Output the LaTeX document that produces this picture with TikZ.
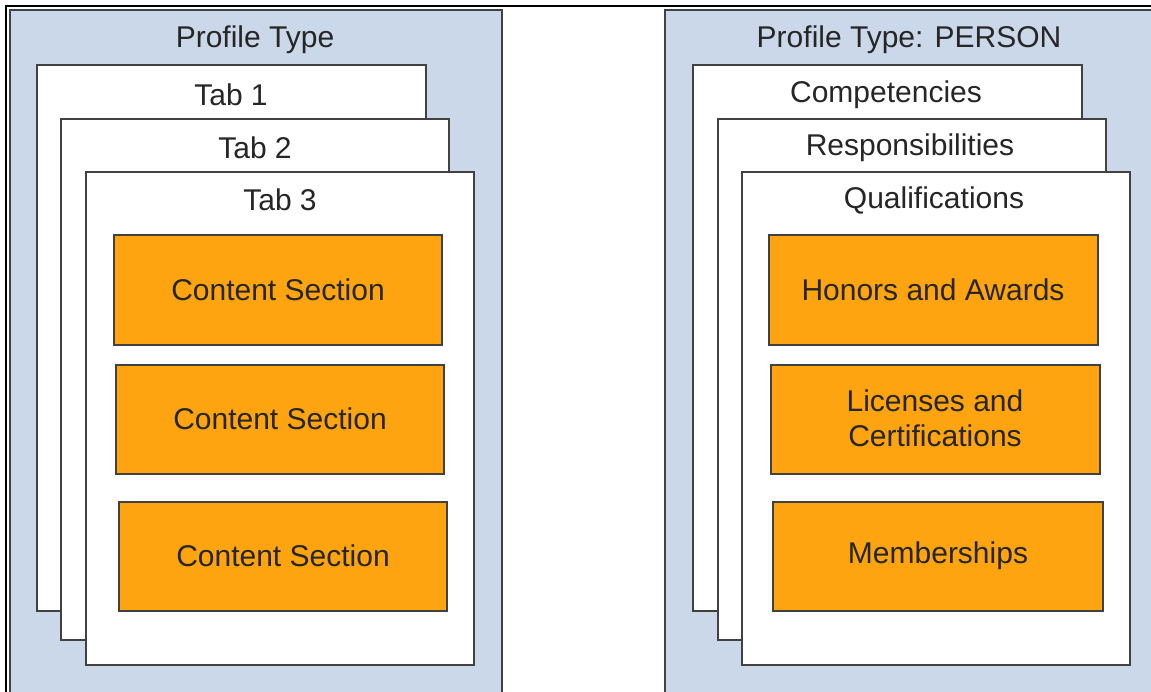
\documentclass[tikz,border=0pt]{standalone}
\usepackage{fontspec}
\setmainfont{Liberation Sans}
\usepackage{tikz}

\definecolor{panelblue}{RGB}{203,216,234}
\definecolor{secorange}{RGB}{253,164,16}
\definecolor{edgegray}{RGB}{65,65,65}

\begin{document}
\begin{tikzpicture}[x=1pt,y=-1pt,
		panel/.style={draw=edgegray,line width=2.2pt,fill=panelblue},
		tab/.style={draw=edgegray,line width=2.6pt,fill=white},
		section/.style={draw=edgegray,line width=2.6pt,fill=secorange},
		lbl/.style={font=\fontsize{30}{35}\selectfont,text=black!85,align=center,inner sep=0pt}]
				\clip (0,0) rectangle (1151,692);
				% frame
				\draw[line width=1.5pt,black] (6,700) -- (6,6) -- (1160,6);
				% left panel
				\draw[panel] (10,10) rectangle (502,702);
				\node[lbl] (ptype) at (255,40) {Profile Type};
				\draw[tab] (37,65) rectangle (426,611);
				\node[lbl] (tab1) at (231,95) {Tab 1};
				\draw[tab] (61,119) rectangle (449,640);
				\node[lbl] (tab2) at (255,148) {Tab 2};
				\draw[tab] (86,172) rectangle (474,665);
				\node[lbl] (tab3) at (280,200) {Tab 3};
				\draw[section] (114,235) rectangle (442,345);
				\node[lbl] (cs1) at (278,290) {Content Section};
				\draw[section] (116,365) rectangle (444,474);
				\node[lbl] (cs2) at (280,419) {Content Section};
				\draw[section] (119,502) rectangle (447,611);
				\node[lbl] (cs3) at (283,556) {Content Section};
				% right panel
				\draw[panel] (665,10) rectangle (1170,702);
				\node[lbl] (person) at (909,40) {Profile Type: PERSON};
				\draw[tab] (693,65) rectangle (1082,611);
				\node[lbl] (comp) at (886,95) {Competencies};
				\draw[tab] (718,119) rectangle (1106,640);
				\node[lbl] (resp) at (910,148) {Responsibilities};
				\draw[tab] (742,172) rectangle (1130,665);
				\node[lbl] (qual) at (934,200) {Qualifications};
				\draw[section] (769,235) rectangle (1098,345);
				\node[lbl] (honors) at (933,290) {Honors and Awards};
				\draw[section] (771,365) rectangle (1100,474);
				\node[lbl] (lic) at (935,418) {Licenses and\\Certifications};
				\draw[section] (773,502) rectangle (1103,611);
				\node[lbl] (member) at (938,556) {Memberships};
			\end{tikzpicture}
\end{document}
